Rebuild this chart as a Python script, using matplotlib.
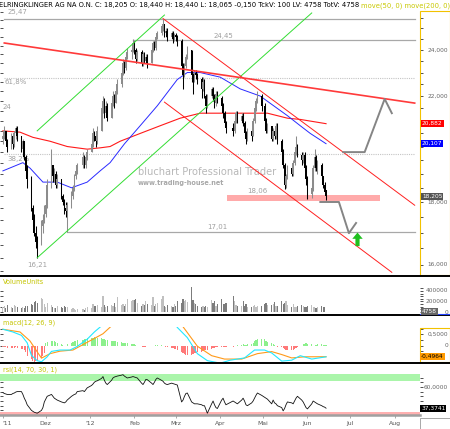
import numpy as np
import pandas as pd
import matplotlib
matplotlib.use("Agg")
import matplotlib.pyplot as plt
import matplotlib.dates as mdates
import matplotlib.transforms as mtransforms
from matplotlib.lines import Line2D
from matplotlib.patches import Rectangle
from matplotlib.ticker import FixedLocator, NullFormatter, NullLocator

plt.rcParams['font.family'] = 'DejaVu Sans'

# ---------------- daily data (Nov 2011 - Jun 2012) ----------------
close_nov = [20.4, 20.6, 20.2, 20.0, 20.4, 20.1, 20.5, 20.7, 20.4, 19.9, 20.2,
             19.6, 19.1, 18.8, 17.8, 17.4, 17.0, 16.7, 16.6, 17.2, 17.4, 17.6]
high_nov = [20.6, 20.8, 20.6, 20.3, 20.5, 20.5, 20.6, 20.8, 20.8, 20.4, 20.3,
            20.2, 19.7, 19.3, 18.9, 17.9, 17.6, 17.2, 16.9, 17.4, 17.6, 17.9]
low_nov = [20.1, 20.3, 20.1, 19.8, 19.9, 19.9, 20.0, 20.3, 20.2, 19.8, 19.7,
           19.5, 18.9, 18.5, 17.7, 17.2, 16.9, 16.5, 16.21, 16.6, 17.0, 17.3]

close_dec = [17.9, 18.6, 19.3, 18.9, 19.0, 18.6, 18.8, 18.2, 18.0, 17.8, 17.7,
             17.9, 18.2, 18.5, 18.9, 19.1, 19.3, 19.6, 19.3, 19.6, 19.8]
high_dec = [18.1, 18.8, 19.9, 19.3, 19.2, 19.1, 19.0, 18.8, 18.3, 18.1, 18.0,
            18.0, 18.4, 18.6, 19.0, 19.3, 19.4, 19.8, 19.7, 19.7, 19.9]
low_dec = [17.5, 17.8, 18.5, 18.7, 18.7, 18.5, 18.5, 18.1, 17.9, 17.6, 17.5,
           17.01, 17.8, 18.1, 18.4, 18.8, 19.0, 19.2, 19.2, 19.2, 19.5]

close_jan = [20.1, 20.5, 20.4, 20.2, 20.6, 21.5, 21.8, 21.3, 21.6, 21.1, 21.7,
             22.0, 21.7, 22.2, 22.5, 23.0, 23.4, 23.2, 23.7, 23.9, 24.0, 24.3]
high_jan = [20.2, 20.7, 20.6, 20.5, 20.8, 21.7, 22.0, 21.9, 21.8, 21.7, 21.8,
            22.2, 22.1, 22.3, 22.7, 23.1, 23.6, 23.5, 23.9, 24.1, 24.2, 24.5]
low_jan = [19.8, 20.0, 20.2, 20.0, 20.1, 20.6, 21.3, 21.1, 21.2, 21.0, 21.1,
           21.6, 21.5, 21.7, 22.1, 22.4, 22.9, 23.0, 23.1, 23.6, 23.6, 23.9]

close_feb = [24.0, 23.6, 23.9, 23.4, 23.8, 23.5, 23.7, 23.4, 24.0, 24.3, 24.1,
             24.6, 24.8, 25.1, 25.2, 24.8, 24.9, 24.6, 24.8, 24.5, 24.7]
high_feb = [24.4, 24.1, 24.0, 24.0, 23.9, 23.9, 23.8, 23.8, 24.1, 24.4, 24.4,
            24.7, 24.9, 25.2, 25.47, 25.2, 25.0, 25.0, 24.9, 24.9, 24.8]
low_feb = [23.8, 23.4, 23.5, 23.3, 23.3, 23.4, 23.4, 23.2, 23.4, 23.9, 24.0,
           24.0, 24.5, 24.7, 24.9, 24.6, 24.6, 24.4, 24.5, 24.3, 24.4]

close_mar = [24.6, 24.4, 23.3, 22.9, 23.3, 23.7, 24.0, 22.9, 22.7, 23.0, 22.9,
             22.7, 22.3, 22.6, 22.0, 21.6, 22.0, 22.3, 22.0, 21.7, 22.1, 21.9]
high_mar = [24.8, 24.7, 24.5, 23.4, 23.4, 23.8, 24.2, 24.0, 23.0, 23.1, 23.1,
            23.0, 22.8, 22.8, 22.7, 22.1, 22.1, 22.4, 22.4, 22.1, 22.2, 22.2]
low_mar = [24.4, 24.2, 23.2, 22.3, 22.8, 23.2, 23.6, 22.6, 22.1, 22.6, 22.7,
           22.5, 21.9, 22.2, 21.9, 21.3, 21.5, 21.9, 21.8, 21.5, 21.6, 21.7]

close_apr = [21.6, 21.3, 20.9, 20.7, 20.6, 21.0, 21.3, 21.0, 21.2, 20.9, 20.5,
             20.3, 20.6, 20.4, 21.0, 21.5, 21.8, 22.0, 21.6]
high_apr = [22.0, 21.7, 21.4, 21.0, 20.9, 21.1, 21.4, 21.4, 21.3, 21.3, 21.0,
            20.6, 20.7, 20.7, 21.1, 21.6, 21.9, 22.2, 22.1]
low_apr = [21.4, 21.1, 20.8, 20.5, 20.4, 20.5, 20.9, 20.9, 20.9, 20.8, 20.4,
           20.1, 20.2, 20.2, 20.4, 20.9, 21.4, 21.7, 21.4]

close_may = [21.0, 20.6, 20.8, 20.3, 20.6, 20.4, 20.8, 20.2, 19.8, 19.3, 18.6,
             18.9, 19.2, 19.0, 19.4, 19.8, 20.0, 19.7, 19.5, 19.7, 19.2, 18.8]
high_may = [21.7, 21.1, 20.9, 20.8, 20.7, 20.7, 20.9, 20.9, 20.3, 19.9, 19.4,
            19.0, 19.3, 19.3, 19.5, 19.9, 20.4, 20.1, 19.8, 19.8, 19.8, 19.3]
low_may = [20.9, 20.5, 20.5, 20.2, 20.2, 20.3, 20.3, 20.1, 19.7, 19.2, 18.45,
           18.5, 18.8, 18.9, 18.9, 19.3, 19.7, 19.6, 19.3, 19.4, 19.1, 18.6]

close_jun = [18.3, 18.5, 19.2, 19.6, 19.2, 19.3, 18.9, 18.6, 18.35, 18.205]
high_jun = [18.9, 18.6, 19.3, 19.9, 19.7, 19.5, 19.4, 18.9, 18.7, 18.44]
low_jun = [18.1, 18.15, 18.4, 19.1, 19.1, 19.0, 18.8, 18.5, 18.3, 18.065]

first_open = 20.3
last_open = 18.44

# volume in thousands
vol_nov = [90, 120, 70, 130, 100, 80, 140, 110, 90, 75, 100, 85, 120, 110, 160, 130, 190, 200, 180, 270, 240, 150]
vol_dec = [100, 180, 130, 90, 80, 70, 110, 90, 85, 120, 100, 90, 60, 70, 55, 40, 50, 60, 45, 70, 90]
vol_jan = [80, 150, 120, 110, 140, 100, 300, 130, 90, 110, 140, 120, 180, 100, 280, 130, 150, 120, 160, 250, 200, 230]
vol_feb = [220, 240, 180, 120, 150, 130, 200, 160, 140, 290, 120, 150, 180, 250, 300, 120, 100, 130, 110, 90, 150]
vol_mar = [120, 200, 180, 250, 200, 230, 190, 480, 220, 180, 150, 110, 100, 120, 90, 110, 100, 230, 170, 200, 120, 150]
vol_apr = [240, 160, 150, 170, 300, 210, 140, 120, 110, 200, 110, 160, 100, 90, 120, 130, 100, 120, 110]
vol_may = [145, 180, 140, 130, 150, 190, 110, 120, 210, 160, 180, 200, 130, 100, 150, 100, 90, 120, 130, 110, 90, 100]
vol_jun = [110, 130, 100, 90, 80, 100, 110, 90, 95, 4.758]

# macd histogram
hist_nov = [-0.05, -0.05, -0.08, -0.1, -0.1, -0.12, -0.1, -0.08, -0.12, -0.15, -0.15,
            -0.2, -0.3, -0.45, -0.6, -0.7, -0.75, -0.7, -0.65, -0.55, -0.45, -0.35]
hist_dec = [0.1, 0.15, 0.2, 0.2, 0.18, 0.15, 0.12, 0.08, 0.02, -0.02, 0.0,
            0.05, 0.1, 0.15, 0.2, 0.22, 0.25, 0.25, 0.28, 0.3, 0.32]
hist_jan = [0.33, 0.35, 0.36, 0.35, 0.34, 0.32, 0.3, 0.28, 0.25, 0.25, 0.22,
            0.2, 0.2, 0.18, 0.15, 0.15, 0.12, 0.12, 0.1, 0.1, 0.08, 0.08]
hist_feb = [0.05, 0.02, 0.0, -0.03, -0.05, -0.06, -0.05, -0.04, -0.03, -0.02, 0.0,
            0.02, 0.03, 0.02, 0.0, -0.02, -0.05, -0.08, -0.1, -0.12, -0.15]
hist_mar = [-0.15, -0.2, -0.3, -0.35, -0.38, -0.4, -0.42, -0.4, -0.38, -0.35, -0.35,
            -0.3, -0.28, -0.25, -0.22, -0.2, -0.18, -0.15, -0.12, -0.1, -0.08, -0.06]
hist_apr = [-0.05, -0.06, -0.08, -0.06, -0.05, -0.03, 0.0, 0.02, 0.03, 0.05,
            0.04, 0.03, 0.05, 0.08, 0.12, 0.18, 0.25, 0.3, 0.3]
hist_may = [0.28, 0.22, 0.15, 0.1, 0.05, 0.02, -0.02, -0.05, -0.08, -0.12, -0.15,
            -0.2, -0.22, -0.22, -0.2, -0.15, -0.1, -0.05, 0.0, 0.05, 0.08, 0.1]
hist_jun = [0.08, 0.05, 0.0, -0.03, 0.02, 0.05, 0.06, 0.04, 0.02, 0.03]

rsi_nov = [54, 53, 52.5, 52, 52, 53, 53.5, 54.5, 55, 55, 52, 48, 45, 41, 35, 34, 33, 32.5, 32, 35, 38, 44]
rsi_dec = [47, 50, 52, 50, 48, 47, 46, 44, 43.5, 43, 44, 46, 50, 51, 52, 52.5, 55, 56, 55, 57, 59]
rsi_jan = [61.5, 63, 65, 66, 66.5, 69, 71, 67, 64, 62.5, 67, 69.5, 70.5, 71, 71.5, 72.5, 73, 71.5, 70.5, 69.5, 70.5, 71]
rsi_feb = [70.5, 70, 69.5, 64, 62.5, 65, 68, 67.7, 64, 62.5, 65, 68, 69.5, 67, 66, 64, 63, 62.5, 64, 63.5, 63]
rsi_mar = [62.5, 62, 44, 46, 50, 53, 53.5, 44, 43, 42, 42, 42, 41, 40, 40, 36, 32, 42, 45, 41, 38, 37]
rsi_apr = [46, 48, 44, 41, 45, 44, 43, 42, 46, 48, 45, 41, 40, 43, 45, 48, 51, 53.5, 51]
rsi_may = [49, 48, 47, 42, 46, 43, 42, 40, 38, 34.5, 37, 41, 44, 43, 42, 45, 48, 50, 46, 44, 41, 38]
rsi_jun = [36.6, 42, 45, 44, 43, 42, 40, 39, 38.5, 37.37]

# smooth lines, sampled
ma50_dates = ['2011-11-01', '2011-11-15', '2011-11-20', '2011-11-29', '2011-12-09', '2011-12-19',
              '2011-12-30', '2012-01-08', '2012-01-15', '2012-01-25', '2012-02-05', '2012-02-17',
              '2012-03-02', '2012-03-09', '2012-03-18', '2012-03-25', '2012-04-01', '2012-04-15',
              '2012-04-29', '2012-05-06', '2012-05-18', '2012-05-27', '2012-06-03', '2012-06-10',
              '2012-06-14']
ma50_vals = [19.1, 19.4, 19.2, 18.7, 18.7, 18.5, 18.7, 19.1, 19.4, 20.1, 20.8, 21.6, 22.7,
             23.0, 23.0, 22.9, 22.8, 22.3, 22.0, 21.7, 21.2, 20.8, 20.5, 20.25, 20.107]
ma200_dates = ['2011-11-01', '2011-11-13', '2011-11-22', '2011-12-04', '2011-12-16', '2011-12-30',
               '2012-01-08', '2012-01-15', '2012-01-22', '2012-02-05', '2012-02-19', '2012-03-04',
               '2012-03-18', '2012-04-10', '2012-05-04', '2012-05-18', '2012-05-27', '2012-06-14']
ma200_vals = [20.6, 20.55, 20.35, 20.2, 20.0, 19.9, 19.95, 20.0, 20.2, 20.5, 20.8, 21.1,
              21.3, 21.3, 21.3, 21.1, 21.05, 20.882]

macd_dates = ['2011-11-01', '2011-11-08', '2011-11-14', '2011-11-18', '2011-11-21', '2011-11-25',
              '2011-11-28', '2011-12-02', '2011-12-05', '2011-12-11', '2011-12-18', '2011-12-23',
              '2011-12-30', '2012-01-04', '2012-01-09', '2012-01-15', '2012-01-25', '2012-02-05',
              '2012-02-15', '2012-02-24', '2012-03-02', '2012-03-09', '2012-03-16', '2012-03-23',
              '2012-04-01', '2012-04-08', '2012-04-18', '2012-04-25', '2012-05-02', '2012-05-07',
              '2012-05-14', '2012-05-21', '2012-05-27', '2012-06-04', '2012-06-14']
macd_vals = [0.72, 0.6, 0.45, 0.12, -0.44, -0.67, -0.72, -0.5, -0.26, -0.2, -0.2, -0.04,
             0.28, 0.6, 0.87, 1.25, 1.6, 1.75, 1.7, 1.45, 0.8, 0.35, -0.36, -0.67, -0.78,
             -0.65, -0.55, -0.2, -0.2, -0.33, -0.69, -0.65, -0.45, -0.6, -0.5]
signal_dates = ['2011-11-01', '2011-11-13', '2011-11-20', '2011-11-25', '2011-11-28', '2011-12-04',
                '2011-12-11', '2011-12-20', '2011-12-27', '2012-01-03', '2012-01-10', '2012-01-16',
                '2012-01-21', '2012-02-01', '2012-02-15', '2012-02-27', '2012-03-06', '2012-03-16',
                '2012-03-26', '2012-04-04', '2012-04-16', '2012-04-27', '2012-05-07', '2012-05-14',
                '2012-05-21', '2012-05-30', '2012-06-14']
signal_vals = [0.72, 0.6, 0.2, -0.28, -0.56, -0.36, -0.25, -0.2, 0.04, 0.28, 0.52, 0.87,
               1.25, 1.6, 1.7, 1.5, 0.83, -0.03, -0.45, -0.6, -0.6, -0.36, -0.27, -0.4,
               -0.55, -0.5, -0.4964]

# drawn studies: trend lines (start date, price, end date, price)
green_lines = [('2011-11-25', 16.21, '2012-06-04', 25.74),
               ('2011-11-25', 20.6, '2012-02-22', 25.64)]
red_lines = [('2012-02-21', 25.47, '2012-08-15', 17.90),
             ('2012-02-22', 21.75, '2012-07-30', 15.77)]
resistance_line = ('2011-11-02', 24.32, '2012-08-15', 21.71)
solid_levels = [(25.47, '2011-11-02'), (24.45, '2012-01-31'), (17.01, '2011-12-16')]
dotted_levels = [22.76, 19.72]
level_end = '2012-08-15'
support_band = (18.06, 18.24, '2012-04-06', '2012-07-22')
path_up_dates = ['2012-06-26', '2012-07-11', '2012-07-25', '2012-07-30']
path_up_vals = [19.79, 19.79, 21.88, 21.30]
path_dn_dates = ['2012-06-10', '2012-06-23', '2012-06-30', '2012-07-05']
path_dn_vals = [18.01, 18.01, 16.98, 17.31]
arrow_date, arrow_from, arrow_to = '2012-07-06', 16.57, 17.0

month_ticks = ['2011-11-01', '2011-12-01', '2012-01-01', '2012-02-01', '2012-03-01',
               '2012-04-01', '2012-05-01', '2012-06-01', '2012-07-01', '2012-08-01']
month_labels = ["'11", 'Dez', "'12", 'Feb', 'Mrz', 'Apr', 'Mai', 'Jun', 'Jul', 'Aug']

# ---------------- assemble ----------------
close = np.array(close_nov + close_dec + close_jan + close_feb + close_mar + close_apr + close_may + close_jun)
high = np.array(high_nov + high_dec + high_jan + high_feb + high_mar + high_apr + high_may + high_jun)
low = np.array(low_nov + low_dec + low_jan + low_feb + low_mar + low_apr + low_may + low_jun)
vol = np.array(vol_nov + vol_dec + vol_jan + vol_feb + vol_mar + vol_apr + vol_may + vol_jun)
hist = np.array(hist_nov + hist_dec + hist_jan + hist_feb + hist_mar + hist_apr + hist_may + hist_jun)
rsi = np.array(rsi_nov + rsi_dec + rsi_jan + rsi_feb + rsi_mar + rsi_apr + rsi_may + rsi_jun)

holidays = pd.to_datetime(['2011-12-26', '2012-04-06', '2012-04-09', '2012-05-01'])
days = pd.bdate_range('2011-11-01', '2012-06-14')
days = days[~days.isin(holidays)]
n = min(len(days), len(close))
x = mdates.date2num(days[:n])
close, high, low, vol, hist, rsi = close[:n], high[:n], low[:n], vol[:n], hist[:n], rsi[:n]
opens = np.r_[first_open, close[:-1]]
opens[-1] = last_open
up = close >= opens


def dn(s):
    return mdates.date2num(pd.Timestamp(s))


def dns(lst):
    return mdates.date2num(pd.to_datetime(lst))


W, H = 450, 429
fig = plt.figure(figsize=(W / 100, H / 100), dpi=100)


def px_axes(x0, y0, x1, y1, **kw):
    return fig.add_axes([x0 / W, 1 - y1 / H, (x1 - x0) / W, (y1 - y0) / H], **kw)


ax = px_axes(0, 10.7, 420, 275)
axv = px_axes(0, 286, 420, 314, sharex=ax)
axm = px_axes(0, 327, 420, 362, sharex=ax)
axr = px_axes(0, 373, 420, 415, sharex=ax)

x0 = dn('2011-10-30')
ax.set_xlim(x0, x0 + 420 / 1.43)

# ---------------- price panel ----------------
ax.set_yscale('log')
ax.set_ylim(15.69, 25.85)

for val, start in solid_levels:
    ax.plot([dn(start), dn(level_end)], [val, val], color='#a8a8a8', lw=0.9, zorder=1)
for val in dotted_levels:
    ax.plot([dn('2011-11-02'), dn(level_end)], [val, val], color='#c4c4c4', lw=0.8,
            ls=(0, (1, 1)), zorder=1)
b0, b1, bs, be = support_band
ax.fill_between([dn(bs), dn(be)], b0, b1, color='#ffaaaa', lw=0, zorder=1)

lab = dict(fontsize=5, color='#a0a0a0', zorder=1)
ax.text(dn('2011-11-04'), 25.62, '25,47', va='bottom', **lab)
ax.text(dn('2012-03-27'), 24.52, '24,45', va='bottom', **lab)
ax.text(dn('2011-11-02'), 22.70, '61,8%', va='top', **lab)
ax.text(dn('2011-11-01'), 21.55, '24', va='center', **lab)
ax.text(dn('2011-11-04'), 19.64, '38,2%', va='top', **lab)
ax.text(dn('2012-03-23'), 17.07, '17,01', va='bottom', **lab)
ax.text(dn('2011-11-25'), 16.09, '16,21', va='top', ha='center', **lab)
ax.text(dn('2012-04-20'), 18.29, '18,06', va='bottom', **lab)

ax.text(138 / W, 1 - 172 / H, 'bluchart Professional Trader', transform=fig.transFigure,
        fontsize=7.1, color='#b8b8b8', va='center', zorder=1)
ax.text(138 / W, 1 - 183.5 / H, 'www.trading-house.net', transform=fig.transFigure,
        fontsize=4.7, color='#a8a8a8', va='center', fontweight='bold', zorder=1)

ax.plot(dns(ma200_dates), ma200_vals, color='#ff1a1a', lw=0.8, zorder=2)
ax.plot(dns(ma50_dates), ma50_vals, color='#2a2aff', lw=0.7, zorder=2)

cols = np.where(up, '#8c8c8c', '#000000')
ax.vlines(x, low, high, colors=cols, lw=0.75, zorder=3)
ax.bar(x, np.maximum(np.abs(close - opens), 0.03), bottom=np.minimum(close, opens),
       width=1.15, color=cols, lw=0, zorder=3)

for d1, p1, d2, p2 in green_lines:
    ax.plot([dn(d1), dn(d2)], [p1, p2], color='#33dd33', lw=0.7, zorder=4)
for d1, p1, d2, p2 in red_lines:
    ax.plot([dn(d1), dn(d2)], [p1, p2], color='#ff2020', lw=0.7, zorder=4)
d1, p1, d2, p2 = resistance_line
ax.plot([dn(d1), dn(d2)], [p1, p2], color='#ff3a3a', lw=1.2, zorder=4)

ax.plot(dns(path_up_dates), path_up_vals, color='#858585', lw=1.4, zorder=4)
ax.plot(dns(path_dn_dates), path_dn_vals, color='#858585', lw=1.4, zorder=4)
ax.annotate('', xy=(dn(arrow_date), arrow_to), xytext=(dn(arrow_date), arrow_from),
            arrowprops=dict(arrowstyle='simple,head_length=0.45,head_width=0.75,tail_width=0.3',
                            mutation_scale=10, color='#1fc01f', lw=0, shrinkA=0, shrinkB=0),
            zorder=5)

# ---------------- volume ----------------
axv.bar(x, vol, width=0.8, color=np.where(up, '#c0c0c0', '#7c7c7c'), lw=0)
axv.set_ylim(-38, 495)

# ---------------- macd ----------------
axm.bar(x, hist, width=0.8, color=np.where(hist >= 0, '#8cf08c', '#ff7878'), lw=0)
axm.plot(dns(signal_dates), signal_vals, color='#ff9a1a', lw=0.8)
axm.plot(dns(macd_dates), macd_vals, color='#22e8ff', lw=0.8)
axm.set_ylim(-0.73, 0.82)

# ---------------- rsi ----------------
axr.axhspan(66.3, 73.7, color='#aaf5aa', lw=0)
axr.axhspan(26.5, 33.3, color='#ffb0b0', lw=0)
axr.plot(x, rsi, color='#111111', lw=0.6)
axr.set_ylim(30.11, 74.79)

# ---------------- axes cosmetics ----------------
right_ticks = {ax: np.arange(16, 26, 0.5), axv: np.arange(0, 500, 50),
               axm: np.arange(-0.75, 0.8, 0.25), axr: np.arange(30, 75, 5)}
left_ticks = {ax: np.arange(15.8, 26, 0.4), axv: np.arange(0, 500, 100),
              axm: np.arange(-0.75, 0.8, 0.25), axr: np.arange(30, 75, 5)}
for a in (ax, axv, axm, axr):
    for s in a.spines.values():
        s.set_visible(False)
    a.yaxis.tick_right()
    a.yaxis.set_major_locator(FixedLocator(right_ticks[a]))
    a.yaxis.set_minor_locator(NullLocator())
    a.yaxis.set_major_formatter(NullFormatter())
    a.yaxis.set_minor_formatter(NullFormatter())
    a.tick_params(axis='y', direction='out', length=2.2, width=0.6, colors='#333333')
    sec = a.secondary_yaxis('left')
    sec.yaxis.set_major_locator(FixedLocator(left_ticks[a]))
    sec.yaxis.set_minor_locator(NullLocator())
    sec.yaxis.set_major_formatter(NullFormatter())
    sec.yaxis.set_minor_formatter(NullFormatter())
    sec.tick_params(direction='in', length=2.5, width=0.6, colors='#333333')
    sec.spines['left'].set_visible(False)
    if a is not axr:
        a.tick_params(axis='x', bottom=False, labelbottom=False)

axr.set_xticks(dns(month_ticks))
axr.set_xticklabels(month_labels)
axr.tick_params(axis='x', length=2, width=0.6, pad=2, labelsize=4.4,
                labelcolor='#555555', color='#999999')
axr.get_xticklabels()[0].set_horizontalalignment('left')
axr.get_xticklabels()[0].set_x(dn('2011-10-30'))
axr.spines['bottom'].set_visible(True)
axr.spines['bottom'].set_color('#a0a0a0')
axr.spines['bottom'].set_linewidth(1.8)


# ---------------- right-hand value scale ----------------
def rlabel(a, val, txt):
    tr = mtransforms.blended_transform_factory(fig.transFigure, a.transData)
    fig.text(448 / W, val, txt, transform=tr, ha='right', va='center', fontsize=4.2,
             color='#666666', zorder=3)


def rbox(a, val, txt, fc, tc, x_px=422):
    tr = mtransforms.blended_transform_factory(fig.transFigure, a.transData)
    fig.text(x_px / W, val, txt, transform=tr, ha='left', va='center', fontsize=4.2,
             color=tc, zorder=4, bbox=dict(boxstyle='square,pad=0.15', fc=fc, ec='none'))


# the 20,000 label sits fully under the blue 20,107 box, so it is left out
for v in (16, 18, 22, 24):
    rlabel(ax, v, f'{v:.3f}'.replace('.', ','))
rbox(ax, ma200_vals[-1], '20,882', '#ff0000', 'white')
rbox(ax, ma50_vals[-1], '20,107', '#0000ff', 'white')
rbox(ax, close[-1], '18,205', '#555555', 'white')

rlabel(axv, 400, '400000')
rlabel(axv, 200, '200000')
rlabel(axv, 0, '0')
rbox(axv, vol[-1], '4758', '#666666', 'white')

rlabel(axm, 0.5, '0,5000')
rlabel(axm, 0, '0')
rbox(axm, signal_vals[-1], '-0,4964', '#ff9a00', 'black', x_px=421)

rlabel(axr, 60, '60,0000')
rbox(axr, rsi[-1], '37,3741', '#000000', 'white', x_px=421)

# ---------------- frame lines, boxes, titles ----------------
for yy in (276, 315, 363):
    fig.add_artist(Line2D([0, 1], [1 - yy / H] * 2, transform=fig.transFigure,
                          color='black', lw=1.4))
fig.add_artist(Rectangle((420 / W, 1 - 275 / H), 29.5 / W, (275 - 10.7) / H,
                         transform=fig.transFigure, fill=False, ec='#f2c200', lw=0.8))
fig.add_artist(Rectangle((420 / W, 1 - 362 / H), 29.5 / W, (362 - 328) / H,
                         transform=fig.transFigure, fill=False, ec='#f2c200', lw=0.8))
fig.add_artist(Line2D([420 / W, 1], [1 - 314 / H] * 2, transform=fig.transFigure,
                      color='#2040ff', lw=0.8))
fig.add_artist(Rectangle((420 / W, 0), 29.5 / W, 11 / H, transform=fig.transFigure,
                         fill=False, ec='#9a9a9a', lw=0.6))

label_kw = dict(fontsize=4.7, color='#c4c400', va='center', ha='left')
fig.text(3 / W, 1 - 282 / H, 'VolumeUnits', **label_kw)
fig.text(3 / W, 1 - 323 / H, 'macd(12, 26, 9)', **label_kw)
fig.text(3 / W, 1 - 370 / H, 'rsi(14, 70, 30, 1)', **label_kw)

hdr = fig.text(-1 / W, 1 - 5.5 / H,
               'ELRINGKLINGER AG NA O.N. C: 18,205 O: 18,440 H: 18,440 L: 18,065 -0,150 '
               'TckV: 100 LV: 4758 TotV: 4758',
               fontsize=4.85, color='black', va='center', ha='left')
fig.canvas.draw()
bb = hdr.get_window_extent()
fig.text((bb.x1 + 2) / W, 1 - 5.5 / H, 'move(50, 0) move(200, 0)', fontsize=4.85,
         color='#c8c800', va='center', ha='left')

fig.savefig('out.png', dpi=100)
